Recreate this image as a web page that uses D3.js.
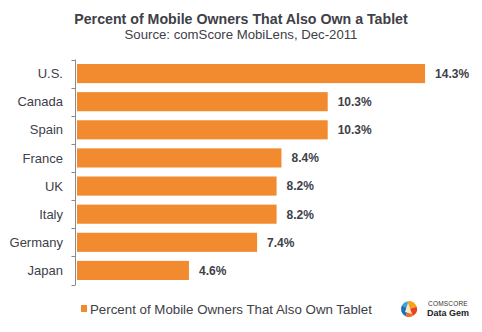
<!DOCTYPE html>
<html>
<head>
<meta charset="utf-8">
<script src="https://cdn.jsdelivr.net/npm/d3@7"></script>
<style>
  body { margin: 0; background: #fff; }
  svg { display: block; font-family: Arial, "Liberation Sans", sans-serif; }
</style>
</head>
<body>
<div id="chart"></div>
<script>
const countries = ['U.S.', 'Canada', 'Spain', 'France', 'UK', 'Italy', 'Germany', 'Japan'];
const shares = [14.3, 10.3, 10.3, 8.4, 8.2, 8.2, 7.4, 4.6];
const seriesName = 'Percent of Mobile Owners That Also Own Tablet';
const title = 'Percent of Mobile Owners That Also Own a Tablet';
const subtitle = 'Source: comScore MobiLens, Dec-2011';

const width = 482, height = 332;
const orange = '#f28b30';
const textColor = '#404048';

const svg = d3.select('#chart').append('svg')
  .attr('width', width)
  .attr('height', height);

svg.append('text')
  .attr('x', 241).attr('y', 24)
  .attr('text-anchor', 'middle')
  .attr('font-size', 14.2).attr('font-weight', 'bold')
  .attr('fill', textColor)
  .text(title);

svg.append('text')
  .attr('x', 241).attr('y', 38.5)
  .attr('text-anchor', 'middle')
  .attr('font-size', 13.2)
  .attr('fill', textColor)
  .text(subtitle);

const x = d3.scaleLinear().domain([0, 16]).range([76, 76 + 16 * 24.34]);
const y = d3.scaleBand().domain(countries).range([59.5, 284.5]).paddingInner(0.32).paddingOuter(0.16);

// category axis: line with ticks at the band boundaries
const axisG = svg.append('g');
axisG.append('line')
  .attr('x1', 75.5).attr('x2', 75.5)
  .attr('y1', 59.5).attr('y2', 285)
  .attr('stroke', '#8a8a8a');
d3.range(countries.length + 1).forEach(i => {
  const ty = Math.round(59.5 + i * (225 / countries.length)) + 0.5;
  axisG.append('line')
    .attr('x1', 71.5).attr('x2', 75.5)
    .attr('y1', ty).attr('y2', ty)
    .attr('stroke', '#8a8a8a');
});

svg.append('g').selectAll('text')
  .data(countries)
  .join('text')
  .attr('x', 63)
  .attr('y', d => y(d) + y.bandwidth() / 2)
  .attr('dy', '0.36em')
  .attr('text-anchor', 'end')
  .attr('font-size', 13)
  .attr('fill', textColor)
  .text(d => d);

const rows = countries.map((c, i) => ({ country: c, value: shares[i] }));

svg.append('g').selectAll('rect')
  .data(rows)
  .join('rect')
  .attr('x', x(0) + 1)
  .attr('y', d => y(d.country))
  .attr('width', d => x(d.value) - x(0))
  .attr('height', y.bandwidth())
  .attr('fill', orange);

svg.append('g').selectAll('text')
  .data(rows)
  .join('text')
  .attr('x', d => x(d.value) + 11)
  .attr('y', d => y(d.country) + y.bandwidth() / 2)
  .attr('dy', '0.36em')
  .attr('font-size', 12).attr('font-weight', 'bold')
  .attr('fill', textColor)
  .text(d => d.value.toFixed(1) + '%');

// legend
svg.append('rect')
  .attr('x', 81).attr('y', 305)
  .attr('width', 6).attr('height', 7)
  .attr('fill', orange);
svg.append('text')
  .attr('x', 90).attr('y', 314)
  .attr('font-size', 13.3)
  .attr('fill', textColor)
  .text(seriesName);

// comScore Data Gem badge
const logo = svg.append('g').attr('transform', 'translate(409,309)');
const arc = d3.arc().innerRadius(0).outerRadius(8);
const slices = [
  { s: -0.2, e: 1.3, c: '#f7a21b' },
  { s: 1.3, e: 2.6, c: '#e8421e' },
  { s: 2.6, e: 3.6, c: '#f36b21' },
  { s: 3.6, e: 5.2, c: '#1d6fb8' },
  { s: 5.2, e: 6.08, c: '#3aa0dc' }
];
logo.selectAll('path')
  .data(slices)
  .join('path')
  .attr('d', d => arc({ startAngle: d.s, endAngle: d.e }))
  .attr('fill', d => d.c);
logo.append('path')
  .attr('d', 'M-1,-6 L3,5 L-4,3 Z')
  .attr('fill', '#fbe9c4');

svg.append('text')
  .attr('x', 428).attr('y', 306)
  .attr('font-size', 6.5)
  .attr('fill', '#333')
  .attr('letter-spacing', 0.2)
  .text('COMSCORE');
svg.append('text')
  .attr('x', 427).attr('y', 316)
  .attr('font-size', 9).attr('font-weight', 'bold')
  .attr('fill', '#222')
  .text('Data Gem');
</script>
</body>
</html>
